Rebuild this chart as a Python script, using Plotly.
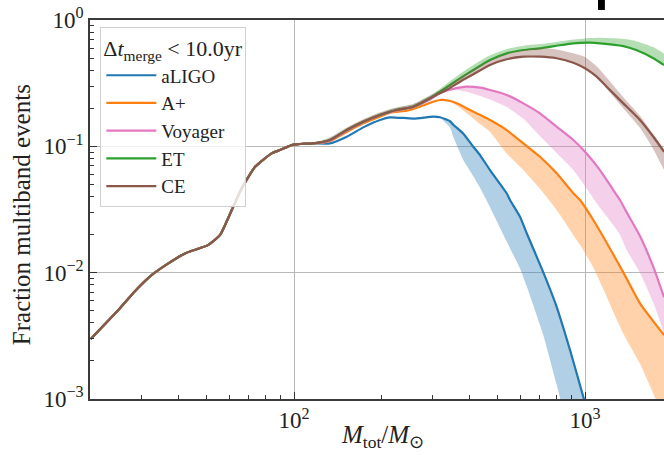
import plotly.graph_objects as go

# ---------------- data ----------------
# shared low-mass part (all detectors coincide)
mass_low = [20, 24.9, 28.5, 32.4, 37.0, 42.2, 50.8, 55.7, 61.1, 66.1, 73.5, 83.8, 89.5, 98.2, 109, 116.5]
frac_low = [0.00298, 0.00506, 0.0072, 0.00957, 0.01185, 0.0142, 0.0166, 0.0199, 0.0313, 0.0465, 0.0689,
            0.0880, 0.0935, 0.1023, 0.1050, 0.1056]

# aLIGO
aligo_mass = [133, 151.8, 173, 197.5, 213.7, 257, 301, 317.5, 343.8, 352.7, 381.8, 413.3, 435.8,
              471.6, 538.1, 552.4, 597.9, 630.5, 719, 799, 888.3, 986.7, 1010]
aligo_med = [0.1056, 0.1191, 0.1413, 0.1616, 0.1697, 0.1660, 0.1716, 0.1700, 0.158, 0.148, 0.126,
             0.0993, 0.0853, 0.0649, 0.0425, 0.0376, 0.0277, 0.0205, 0.01005, 0.00537, 0.00244,
             0.00104, 0.00085]
aligo_lo = [0.1056, 0.1191, 0.1413, 0.1616, 0.1697, 0.1660, 0.1716, 0.168, 0.140, 0.119, 0.078,
            0.058, 0.047, 0.033, 0.0177, 0.0156, 0.0108, 0.0078, 0.0032, 0.0013, 0.0005,
            0.0002, 0.00015]
aligo_hi = aligo_med

# A+
aplus_mass = [133, 151.8, 173, 197.5, 213.7, 243.9, 271, 301, 317.5, 343.8, 362.4, 402.6, 435.8,
              471.6, 538.1, 613.8, 700.5, 799, 911.8, 961.2, 1068, 1354, 1545, 1869]
aplus_med = [0.110, 0.130, 0.152, 0.172, 0.185, 0.1913, 0.2059, 0.2254, 0.2326, 0.2284, 0.2189,
             0.1938, 0.177, 0.1616, 0.1346, 0.1056, 0.0827, 0.0611, 0.0425, 0.0376, 0.0261,
             0.01005, 0.00571, 0.0032]
aplus_lo = [0.110, 0.130, 0.152, 0.172, 0.185, 0.1913, 0.2059, 0.2254, 0.2326, 0.225, 0.21,
            0.175, 0.150, 0.130, 0.088, 0.0649, 0.0461, 0.0313, 0.0199, 0.0166, 0.0110,
            0.0033, 0.0019, 0.0007]
aplus_hi = aplus_med

# Voyager
voy_mass = [133, 151.8, 173, 197.5, 213.7, 225.4, 257, 293.4, 317.5, 352.7, 392.2, 435.8, 471.6,
            538.1, 613.8, 700.5, 799, 911.8, 1000, 1126, 1251, 1319, 1391, 1545, 1717, 1869]
voy_med = [0.111, 0.133, 0.155, 0.176, 0.186, 0.192, 0.205, 0.235, 0.265, 0.285, 0.2965, 0.2911,
           0.2792, 0.2549, 0.2189, 0.1825, 0.1429, 0.1122, 0.0906, 0.0649, 0.0451, 0.0376,
           0.0300, 0.0195, 0.0111, 0.0064]
voy_lo = [0.111, 0.133, 0.155, 0.176, 0.186, 0.192, 0.205, 0.235, 0.265, 0.28, 0.27, 0.25,
          0.235, 0.205, 0.165, 0.1205, 0.0885, 0.0649, 0.0483, 0.0326, 0.0238, 0.020,
          0.0151, 0.0100, 0.0058, 0.0033]
voy_hi = voy_med

# ET
et_mass = [133, 151.8, 173, 197.5, 213.7, 225.4, 257, 293.4, 317.5, 372, 413.3, 471.6, 538.1,
           613.8, 700.5, 799, 911.8, 1040, 1126, 1354, 1500, 1717, 1869]
et_med = [0.1122, 0.1346, 0.1566, 0.1770, 0.1879, 0.1938, 0.2059, 0.2400, 0.2706, 0.3454, 0.4020,
          0.4823, 0.5447, 0.5787, 0.5970, 0.6252, 0.6541, 0.6609, 0.6541, 0.622, 0.578, 0.498,
          0.440]
et_hi = [0.116, 0.139, 0.162, 0.184, 0.196, 0.202, 0.215, 0.252, 0.285, 0.375, 0.44, 0.525,
         0.59, 0.625, 0.645, 0.67, 0.70, 0.72, 0.725, 0.71, 0.68, 0.61, 0.54]
et_lo = et_med

# CE
ce_mass = [133, 151.8, 173, 197.5, 213.7, 225.4, 257, 293.4, 317.5, 334.6, 372, 413.3, 471.6,
           538.1, 613.8, 700.5, 799, 911.8, 1000, 1097, 1187, 1354, 1545, 1717, 1869]
ce_med = [0.1122, 0.1346, 0.1566, 0.1770, 0.1879, 0.1938, 0.2059, 0.2400, 0.2629, 0.2792, 0.3247,
          0.3717, 0.4403, 0.4886, 0.5121, 0.5121, 0.4977, 0.4593, 0.4148, 0.3558, 0.2965,
          0.2189, 0.1616, 0.1191, 0.0906]
ce_hi = [0.118, 0.141, 0.164, 0.186, 0.197, 0.203, 0.216, 0.252, 0.278, 0.296, 0.35, 0.405,
         0.48, 0.54, 0.58, 0.60, 0.585, 0.545, 0.51, 0.43, 0.35, 0.245, 0.175, 0.125, 0.095]
ce_lo = [0.1122, 0.1346, 0.1566, 0.1770, 0.1879, 0.1938, 0.2059, 0.2400, 0.2629, 0.2792, 0.3247,
         0.3717, 0.4403, 0.4886, 0.5121, 0.5121, 0.4977, 0.4593, 0.4148, 0.3558, 0.285,
         0.20, 0.14, 0.095, 0.065]

detectors = ["aLIGO", "A+", "Voyager", "ET", "CE"]
colors = ["#1f77b4", "#ff7f0e", "#e377c2", "#2ca02c", "#8c564b"]
band_colors = ["rgba(31,119,180,0.35)", "rgba(255,127,14,0.35)", "rgba(227,119,194,0.35)",
               "rgba(44,160,44,0.35)", "rgba(140,86,75,0.35)"]
series = [
    (aligo_mass, aligo_med, aligo_lo, aligo_hi),
    (aplus_mass, aplus_med, aplus_lo, aplus_hi),
    (voy_mass, voy_med, voy_lo, voy_hi),
    (et_mass, et_med, et_lo, et_hi),
    (ce_mass, ce_med, ce_lo, ce_hi),
]

x_tickvals = [100, 1000]
x_ticktext = ["10<sup>2</sup>", "10<sup>3</sup>"]
y_tickvals = [1e-3, 1e-2, 1e-1, 1]
y_ticktext = ["10<sup>−3</sup>", "10<sup>−2</sup>", "10<sup>−1</sup>", "10<sup>0</sup>"]
x_minor = [20, 30, 40, 50, 60, 70, 80, 90, 200, 300, 400, 500, 600, 700, 800, 900]
y_minor = [2e-3, 3e-3, 4e-3, 5e-3, 6e-3, 7e-3, 8e-3, 9e-3,
           2e-2, 3e-2, 4e-2, 5e-2, 6e-2, 7e-2, 8e-2, 9e-2,
           0.2, 0.3, 0.4, 0.5, 0.6, 0.7, 0.8, 0.9]

# ---------------- figure ----------------
FONT = "Liberation Serif"
fig = go.Figure()
for name, col, bcol, (m, med, lo, hi) in zip(detectors, colors, band_colors, series):
    xs = mass_low + m
    fig.add_trace(go.Scatter(x=xs, y=frac_low + lo, mode="lines",
                             line=dict(width=0, shape="spline", smoothing=0.5),
                             showlegend=False, hoverinfo="skip"))
    fig.add_trace(go.Scatter(x=xs, y=frac_low + hi, mode="lines",
                             line=dict(width=0, shape="spline", smoothing=0.5),
                             fill="tonexty", fillcolor=bcol, showlegend=False, hoverinfo="skip"))
    fig.add_trace(go.Scatter(x=xs, y=frac_low + med, mode="lines", name=name,
                             line=dict(color=col, width=2.2, shape="spline", smoothing=0.5)))

axis_common = dict(
    type="log", showline=True, linecolor="#3a3a3a", linewidth=1.5,
    ticks="inside", ticklen=7, tickwidth=1, tickcolor="#333",
    showgrid=True, gridcolor="#b8b8b8", gridwidth=1, zeroline=False,
    tickmode="array", tickfont=dict(family=FONT, size=23, color="#222"),
)

fig.update_xaxes(**axis_common, range=[1.2989, 3.2715], tickvals=x_tickvals, ticktext=x_ticktext,
                 mirror=True,
                 minor=dict(tickmode="array", tickvals=x_minor, ticks="inside", ticklen=4,
                            tickcolor="#333", showgrid=False))
fig.update_yaxes(**axis_common, range=[-3, 0], tickvals=y_tickvals, ticktext=y_ticktext,
                 mirror=False,
                 minor=dict(tickmode="array", tickvals=y_minor, ticks="inside", ticklen=4,
                            tickcolor="#333", showgrid=False))

fig.update_layout(
    width=664, height=455,
    margin=dict(l=90, r=0, t=20, b=56),
    paper_bgcolor="white", plot_bgcolor="white",
    font=dict(family=FONT, color="#222"),
    legend=dict(
        x=0.018, y=0.982, xanchor="left", yanchor="top",
        traceorder="normal", itemwidth=50,
        bgcolor="rgba(255,255,255,0.8)", bordercolor="#d0d0d0", borderwidth=1,
        font=dict(family=FONT, size=19, color="#222"),
        title=dict(text="Δ<i>t</i><sub>merge</sub> < 10.0yr",
                   font=dict(family=FONT, size=22, color="#222")),
        tracegroupgap=0,
    ),
    annotations=[
        dict(text="Fraction multiband events", x=-0.1202, y=0.485, xref="paper", yref="paper",
             textangle=-90, showarrow=False, xanchor="center", yanchor="middle",
             font=dict(family=FONT, size=25, color="#222")),
        dict(text="<i>M</i><sub>tot</sub>/<i>M</i><sub>⊙</sub>", x=0.509, y=-0.10,
             xref="paper", yref="paper", showarrow=False, xanchor="center", yanchor="middle",
             font=dict(family=FONT, size=25, color="#222")),
    ],
    shapes=[
        dict(type="rect", xref="paper", yref="paper", x0=0.885, x1=0.897, y0=1.0264, y1=1.06,
             fillcolor="black", line=dict(width=0)),
    ],
)

fig.write_html("out.html")
